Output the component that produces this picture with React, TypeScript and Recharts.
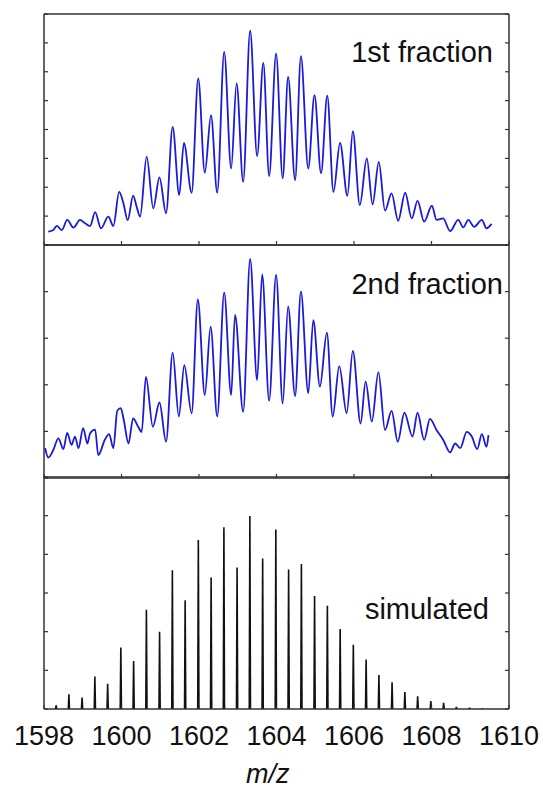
import { LineChart, Line, BarChart, Bar, XAxis, YAxis } from 'recharts';

// m/z axis
const MZ_DOMAIN = [1598, 1610];
const MZ_TICKS = [1598, 1600, 1602, 1604, 1606, 1608, 1610];

// 1st fraction: measured profile
const FIRST_MZ = [
  1598.11, 1598.24, 1598.33, 1598.46, 1598.6, 1598.76, 1598.93, 1599.06, 1599.19, 1599.32,
  1599.47, 1599.66, 1599.79, 1599.94, 1600.05, 1600.16, 1600.3, 1600.39, 1600.48, 1600.65,
  1600.82, 1600.98, 1601.15, 1601.32, 1601.49, 1601.61, 1601.81, 1601.98, 1602.15, 1602.31,
  1602.47, 1602.65, 1602.83, 1602.97, 1603.14, 1603.32, 1603.5, 1603.66, 1603.81, 1603.99,
  1604.16, 1604.3, 1604.48, 1604.63, 1604.82, 1604.98, 1605.15, 1605.31, 1605.47, 1605.64,
  1605.83, 1605.97, 1606.15, 1606.33, 1606.48, 1606.64, 1606.8, 1606.97, 1607.14, 1607.32,
  1607.49, 1607.64, 1607.81, 1608.01, 1608.13, 1608.3, 1608.48, 1608.69, 1608.82, 1608.95,
  1609.1, 1609.3, 1609.42, 1609.55,
];
const FIRST_INT = [
  0.46, 0.52, 0.66, 0.52, 0.87, 0.6, 0.87, 0.75, 0.66, 1.14,
  0.58, 0.98, 0.66, 1.84, 1.44, 0.86, 1.71, 1.33, 0.98, 3.06,
  1.27, 2.34, 1.1, 4.09, 1.73, 3.54, 1.81, 5.77, 2.5, 4.5,
  1.81, 6.69, 2.65, 5.6, 2.19, 7.42, 3.08, 6.31, 2.39, 6.63,
  2.31, 5.82, 2.25, 6.54, 2.65, 5.19, 2.48, 5.17, 1.84, 3.54,
  1.7, 3.94, 1.38, 3.0, 1.41, 2.88, 1.19, 1.79, 0.84, 1.81,
  0.92, 1.53, 0.81, 1.36, 0.87, 0.92, 0.48, 0.87, 0.61, 0.87,
  0.63, 0.87, 0.58, 0.73,
];

// 2nd fraction: measured profile
const SECOND_MZ = [
  1598.03, 1598.11, 1598.24, 1598.37, 1598.5, 1598.6, 1598.71, 1598.8, 1598.89, 1599.01,
  1599.12, 1599.19, 1599.32, 1599.4, 1599.57, 1599.68, 1599.79, 1599.89, 1599.98, 1600.06,
  1600.18, 1600.3, 1600.43, 1600.52, 1600.63, 1600.81, 1600.98, 1601.15, 1601.32, 1601.48,
  1601.62, 1601.81, 1601.97, 1602.15, 1602.3, 1602.47, 1602.65, 1602.83, 1602.93, 1603.14,
  1603.32, 1603.5, 1603.63, 1603.81, 1603.99, 1604.16, 1604.3, 1604.48, 1604.63, 1604.82,
  1604.95, 1605.12, 1605.3, 1605.45, 1605.62, 1605.81, 1605.97, 1606.17, 1606.3, 1606.46,
  1606.63, 1606.8, 1606.97, 1607.13, 1607.3, 1607.51, 1607.64, 1607.81, 1607.96, 1608.13,
  1608.3, 1608.48, 1608.61, 1608.74, 1608.91, 1609.04, 1609.18, 1609.3, 1609.42, 1609.47,
];
const SECOND_INT = [
  0.64, 0.44, 0.6, 0.85, 0.62, 0.97, 0.71, 0.89, 0.64, 1.07,
  0.74, 0.96, 1.04, 0.49, 0.82, 0.94, 0.64, 1.44, 1.5, 1.24,
  0.74, 1.28, 1.1, 0.99, 2.17, 1.1, 1.62, 0.78, 2.69, 1.32,
  2.42, 1.39, 3.83, 1.78, 3.25, 1.32, 3.98, 1.78, 3.5, 1.42,
  4.7, 2.1, 4.37, 1.66, 4.36, 1.6, 3.68, 1.76, 4.0, 1.82,
  3.39, 1.96, 3.12, 1.32, 2.4, 1.39, 2.73, 1.17, 2.07, 1.21,
  2.27, 1.03, 1.44, 0.78, 1.4, 0.89, 1.4, 0.82, 1.27, 1.03,
  0.82, 0.55, 0.74, 0.64, 0.99, 0.89, 0.62, 0.94, 0.67, 0.92,
];

// simulated isotope distribution (stick spectrum)
const SIM_MZ = [
  1598.31, 1598.64, 1598.98, 1599.31, 1599.64, 1599.98, 1600.31, 1600.64, 1600.98, 1601.31,
  1601.64, 1601.98, 1602.31, 1602.64, 1602.98, 1603.31, 1603.64, 1603.98, 1604.31, 1604.64,
  1604.98, 1605.31, 1605.64, 1605.98, 1606.31, 1606.64, 1606.98, 1607.31, 1607.64, 1607.98,
  1608.31, 1608.64, 1608.98, 1609.31,
];
const SIM_INT = [
  0.1, 0.38, 0.3, 0.84, 0.65, 1.59, 1.24, 2.57, 2.0, 3.59,
  2.81, 4.37, 3.4, 4.7, 3.66, 4.99, 3.89, 4.64, 3.61, 3.75,
  2.92, 2.67, 2.07, 1.66, 1.28, 0.88, 0.69, 0.44, 0.33, 0.21,
  0.16, 0.06, 0.04, 0.02,
];

const FONT = '"Liberation Sans", Arial, sans-serif';
const FRAME = '#333';
const BLUE = '#1a1ad8';
const W = 543;
const MARGIN_X = { left: 44, right: 34 };
const TICK_LEN = 4;

const range = (n: number) => Array.from({ length: n + 1 }, (_, i) => i);

const toRows = (xs: number[], ys: number[]) => xs.map((mz, i) => ({ mz, v: ys[i] }));

// inward tick mark: (dx, dy) points into the plot area
const inwardTick = (dx: number, dy: number) => (p: any) => (
  <line
    x1={p.x}
    y1={p.y}
    x2={p.x + dx * TICK_LEN}
    y2={p.y + dy * TICK_LEN}
    stroke={FRAME}
    strokeWidth={1.2}
  />
);

// box frame with inward ticks on all four sides
function Frame({ yMax, bottom }: { yMax: number; bottom?: 'labels' }) {
  const axisLine = { stroke: FRAME, strokeWidth: 1.5 };
  const common = {
    allowDataOverflow: true,
    tickSize: 0,
    tickMargin: 0,
    tickLine: false,
    axisLine,
    interval: 0 as const,
  };
  return [
    <XAxis
      key="top"
      xAxisId="top"
      orientation="top"
      type="number"
      domain={MZ_DOMAIN}
      ticks={MZ_TICKS}
      mirror
      tick={inwardTick(0, 1)}
      {...common}
    />,
    bottom === 'labels' ? (
      <XAxis
        key="bottom"
        xAxisId={0}
        dataKey="mz"
        type="number"
        domain={MZ_DOMAIN}
        ticks={MZ_TICKS}
        height={40}
        {...common}
        tick={(p: any) => (
          <g>
            <line x1={p.x} x2={p.x} y1={p.y} y2={p.y - TICK_LEN} stroke={FRAME} strokeWidth={1.2} />
            <text x={p.x} y={p.y + 36} textAnchor="middle" fontFamily={FONT} fontSize={27} fill="#111">
              {p.payload.value}
            </text>
          </g>
        )}
      />
    ) : (
      <XAxis
        key="bottom"
        xAxisId={0}
        dataKey="mz"
        type="number"
        domain={MZ_DOMAIN}
        ticks={MZ_TICKS}
        mirror
        tick={inwardTick(0, -1)}
        {...common}
      />
    ),
    <YAxis
      key="left"
      yAxisId={0}
      type="number"
      domain={[0, yMax]}
      ticks={range(yMax)}
      mirror
      tick={inwardTick(1, 0)}
      {...common}
    />,
    <YAxis
      key="right"
      yAxisId="right"
      orientation="right"
      type="number"
      domain={[0, yMax]}
      ticks={range(yMax)}
      mirror
      tick={inwardTick(-1, 0)}
      {...common}
    />,
  ];
}

// thin, slightly tapered stick
function Stick(props: any) {
  const { x, y, width, height } = props;
  if (!height || height <= 0) return null;
  const cx = x + width / 2;
  const b = y + height;
  return (
    <path
      d={`M${cx - 1.4},${b} L${cx - 0.8},${y} L${cx + 0.8},${y} L${cx + 1.4},${b} Z`}
      fill="#111"
    />
  );
}

const labelStyle = (right: number, top: number): React.CSSProperties => ({
  position: 'absolute',
  right,
  top,
  fontFamily: FONT,
  fontSize: 29,
  lineHeight: 1,
  color: '#111',
  whiteSpace: 'nowrap',
});

export default function App() {
  const first = toRows(FIRST_MZ, FIRST_INT);
  const second = toRows(SECOND_MZ, SECOND_INT);
  const sim = toRows(SIM_MZ, SIM_INT);

  return (
    <div style={{ position: 'absolute', left: 0, top: 0, width: W, height: 791, background: '#fff' }}>
      <div style={{ position: 'absolute', left: 0, top: 0 }}>
        <LineChart width={W} height={260} data={first} margin={{ top: 14, bottom: 15, ...MARGIN_X }}>
          {Frame({ yMax: 8 })}
          <Line
            type="monotone"
            dataKey="v"
            stroke={BLUE}
            strokeWidth={1.8}
            dot={false}
            isAnimationActive={false}
          />
        </LineChart>
      </div>

      <div style={{ position: 'absolute', left: 0, top: 231 }}>
        <LineChart width={W} height={261} data={second} margin={{ top: 14, bottom: 14, ...MARGIN_X }}>
          {Frame({ yMax: 5 })}
          <Line
            type="monotone"
            dataKey="v"
            stroke={BLUE}
            strokeWidth={1.8}
            dot={false}
            isAnimationActive={false}
          />
        </LineChart>
      </div>

      <div style={{ position: 'absolute', left: 0, top: 463 }}>
        <BarChart width={W} height={328} data={sim} margin={{ top: 14, bottom: 42, ...MARGIN_X }}>
          {Frame({ yMax: 6, bottom: 'labels' })}
          <Bar dataKey="v" barSize={3} shape={<Stick />} isAnimationActive={false} />
        </BarChart>
      </div>

      <div style={labelStyle(50, 38)}>1st fraction</div>
      <div style={labelStyle(40, 270)}>2nd fraction</div>
      <div style={labelStyle(54, 595)}>simulated</div>
      <div
        style={{
          position: 'absolute',
          left: 246,
          top: 761,
          fontFamily: FONT,
          fontSize: 27,
          fontStyle: 'italic',
          lineHeight: 1,
          color: '#111',
        }}
      >
        m/z
      </div>
    </div>
  );
}
